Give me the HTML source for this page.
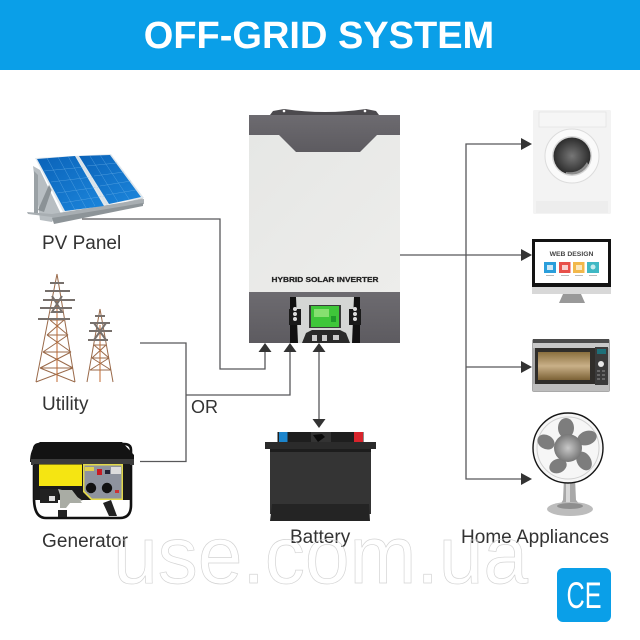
<!DOCTYPE html>
<html><head><meta charset="utf-8"><style>html,body{margin:0;padding:0;background:#fff}svg{display:block}text{font-family:"Liberation Sans",sans-serif}</style></head><body>
<svg width="640" height="640" viewBox="0 0 640 640" xmlns="http://www.w3.org/2000/svg">
<defs>
<linearGradient id="body" x1="0" x2="1" y1="0" y2="1"><stop offset="0" stop-color="#e6e7e5"/><stop offset="1" stop-color="#ededeb"/></linearGradient>
<linearGradient id="grey" x1="0" x2="0" y1="0" y2="1"><stop offset="0" stop-color="#6d6b70"/><stop offset="1" stop-color="#5d5b60"/></linearGradient>
<linearGradient id="pv" x1="0" x2="1" y1="0" y2="1"><stop offset="0" stop-color="#0a62b8"/><stop offset="1" stop-color="#1c86dc"/></linearGradient>
<radialGradient id="hub"><stop offset="0" stop-color="#c8c8c8"/><stop offset="1" stop-color="#777"/></radialGradient>
<radialGradient id="glass"><stop offset="0" stop-color="#777"/><stop offset="1" stop-color="#2c2c2c"/></radialGradient>
<linearGradient id="oven" x1="0" x2="0" y1="0" y2="1"><stop offset="0" stop-color="#8a6f3e"/><stop offset=".5" stop-color="#c9b088"/><stop offset="1" stop-color="#7c6236"/></linearGradient>
</defs>

<rect width="640" height="640" fill="#fff"/>
<rect width="640" height="70" fill="#0a9fe8"/>
<text x="319" y="48" font-size="38" font-weight="700" fill="#fff" text-anchor="middle">OFF-GRID SYSTEM</text>

<!-- inverter -->
<path d="M270 115 L273 111 L284 109 Q325 115 366 109 L376 111 L379 115Z" fill="#4c4a4e"/>
<circle cx="284" cy="111" r="1.3" fill="#fff"/><circle cx="365" cy="111" r="1.3" fill="#fff"/>
<rect x="249" y="135" width="151" height="157" fill="url(#body)"/>
<path d="M249 115H400V135H377L360 152H296L279 135H249Z" fill="url(#grey)"/>
<rect x="249" y="292" width="151" height="51" fill="url(#grey)"/>
<text x="325" y="282" font-size="7.4" font-weight="700" fill="#222" stroke="#222" stroke-width=".25" text-anchor="middle" textLength="107" lengthAdjust="spacingAndGlyphs">HYBRID SOLAR INVERTER</text>
<rect x="290" y="297" width="70" height="46" fill="#111"/>
<path d="M296 297H354L352 343H298Z" fill="#d4d6d4"/>
<rect x="289" y="309" width="12" height="16" fill="#1a1a1a"/><rect x="349" y="309" width="12" height="16" fill="#1a1a1a"/>
<circle cx="295" cy="309" r="2" fill="#ddd"/><circle cx="295" cy="314" r="2" fill="#ddd"/><circle cx="295" cy="319" r="2" fill="#ddd"/>
<circle cx="355" cy="309" r="2" fill="#ddd"/><circle cx="355" cy="314" r="2" fill="#ddd"/><circle cx="355" cy="319" r="2" fill="#ddd"/>
<rect x="309" y="305" width="32" height="23" fill="#3a3c3a"/>
<rect x="311" y="306" width="28" height="21" fill="#3fc63a"/>
<rect x="314" y="309" width="15" height="8" fill="#86e070"/><rect x="331" y="316" width="5" height="6" fill="#1f9b2a"/>
<path d="M306 333L312 330H340L346 333L350 343H302Z" fill="#2a2a2a"/>
<rect x="312" y="335" width="5" height="6" fill="#ccc"/><rect x="322" y="335" width="5" height="6" fill="#ccc"/><rect x="333" y="335" width="6" height="5" fill="#ccc"/>

<!-- connectors -->
<g fill="none" stroke="#58585a" stroke-width="1.3">
<path d="M82 219H220V369H265V350"/>
<path d="M140 343H186V461.5H140"/>
<path d="M186 395H290V350"/>
<path d="M319 350V422"/>
<path d="M400 255H524"/>
<path d="M524 144H466V479H524"/>
<path d="M466 367H524"/>
</g>
<g fill="#333">
<path d="M265 343L258.500 352H271.500Z"/>
<path d="M290 343L283.500 352H296.500Z"/>
<path d="M319 343L312.500 352H325.500Z"/>
<path d="M319 428L312.500 419H325.500Z"/>
<path d="M532 144L521 138V150Z"/>
<path d="M532 255L521 249V261Z"/>
<path d="M532 367L521 361V373Z"/>
<path d="M532 479L521 473V485Z"/>
</g>

<!-- PV panel -->
<g>
<path d="M33 166L40 220L52 222L56 216L140 205L143 198L130 201L62 216L40 170Z" fill="#b8bec2"/>
<path d="M27 212L52 214L144 199V204L54 221L52 217L28 214Z" fill="#a8aeb2"/>
<path d="M52 218L143 203V206L54 224Z" fill="#8d9498"/>
<path d="M34 171V213H38V175Z" fill="#9aa1a5"/>
<path d="M38 210L52 178L54 183L44 212Z" fill="#8b9296"/>
<path d="M35 158L111 154L144 198L63 212Z" fill="#dfe7ed"/>
<path d="M37 159L75 156L104 206L65 211Z" fill="url(#pv)"/>
<path d="M79 156L110 155L141 197L109 204Z" fill="url(#pv)"/>
<g stroke="#6fb4ea" stroke-width=".4" fill="none" opacity=".8">
<path d="M44 171L85 167M51 182L92 177M57 193L99 187M62 203L105 196M87 166L117 163M94 176L124 172M100 186L131 181M106 195L136 190"/>
<path d="M47 158L75 210M58 157L86 208M68 156L95 206M90 156L118 202M100 155L129 199"/>
</g>
<path d="M76 156L78 156L108 205L106 205Z" fill="#d9e2e8"/>
</g>
<text x="42" y="249" font-size="19" fill="#333">PV Panel</text>

<!-- towers -->
<g fill="none" stroke="#9a6a4a" stroke-width="1">
<path d="M57 274L36 382M57 274L75 382M50 320L64 320M47 335L68 335M43 352L71 352M40 368L73 368M50 320L68 335M64 320L47 335M47 335L71 352M68 335L43 352M43 352L73 368M71 352L40 368M40 368L75 382M73 368L36 382"/>
<path d="M57 300V382" stroke="#c06a30"/>
<path d="M100 309L87 382M100 309L113 382M94 345L106 345M92 358L109 358M90 370L111 370M94 345L109 358M106 345L92 358M92 358L111 370M109 358L90 370"/>
<path d="M100 325V382" stroke="#c06a30"/>
</g>
<g fill="none" stroke="#77706c" stroke-width="2">
<path d="M45 291H70M43 300H75M40 308H72M38 319H70M50 283H64M52 296L62 312L52 312L62 296"/>
<path d="M90 323H110M89 331H112M88 340H108M95 316H105M94 323L106 340M106 323L94 340"/>
</g>
<text x="42" y="410" font-size="19" fill="#333">Utility</text>

<!-- generator -->
<path d="M34 498V450Q34 444 40 444H124Q131 444 131 450V505Q131 518 120 518H46Q34 518 34 498Z" fill="none" stroke="#111" stroke-width="2.6"/>
<path d="M30 462Q30 449 37 444L40 442H122L134 455V463Z" fill="#131313"/>
<rect x="31" y="459" width="103" height="6" fill="#3c3c3c"/>
<rect x="34" y="464" width="96" height="36" fill="#1a1a1a"/>
<rect x="39" y="464.500" width="43" height="21.500" fill="#f5e512"/>
<path d="M83 464H123V500H91L83 492Z" fill="#e2d94a"/>
<path d="M84.500 465.500H121.500V498.500H92L84.500 491Z" fill="#8e939e"/>
<rect x="85" y="467" width="9" height="4" fill="#e0d050"/>
<rect x="97" y="469" width="5" height="6" fill="#c81a22"/>
<rect x="105" y="470" width="5" height="4" fill="#223"/>
<rect x="111" y="467" width="10" height="7" fill="#ddd"/>
<circle cx="91" cy="488" r="5.200" fill="#111"/><circle cx="107" cy="488" r="5.200" fill="#111"/>
<rect x="115" y="490" width="4" height="3" fill="#c33"/>
<path d="M58 489L70 492L83 501H62Z" fill="#b8bab4"/>
<rect x="40" y="489" width="18" height="14" fill="#222"/><rect x="49" y="496" width="6" height="5" fill="#ddd"/>
<path d="M60 490H72L82 503H70L66 508H60Z" fill="#a9aca4"/>
<path d="M58 510H67V517H58ZM103 503L111 500L117 516H109Z" fill="#222"/>
<text x="42" y="547" font-size="19" fill="#333" textLength="86">Generator</text>

<!-- battery -->
<rect x="277.500" y="432" width="86" height="11" fill="#1e1e1e"/>
<rect x="279" y="432" width="8.500" height="10" fill="#1c85cc"/>
<rect x="354" y="432" width="9" height="10" fill="#d8242c"/>
<rect x="311" y="432" width="20" height="10" fill="#333"/>
<path d="M313 435L322 434L325 437L318 442Z" fill="#0a0a0a"/>
<rect x="265" y="442" width="111" height="7" fill="#2b2b2b"/>
<rect x="270" y="449" width="101" height="65" fill="#343434"/>
<rect x="270" y="449" width="101" height="3" fill="#1d1d1d"/>
<path d="M272 504H369L370 521H270Z" fill="#242424"/>
<text x="290" y="543" font-size="19" fill="#333">Battery</text>

<text x="191" y="413" font-size="18" fill="#333">OR</text>

<!-- washer -->
<rect x="533" y="110" width="78" height="104" rx="1.500" fill="#f3f3f3"/>
<rect x="539" y="112" width="67" height="15" fill="#f6f6f6" stroke="#e0e0e0" stroke-width=".6"/>
<rect x="536" y="201" width="72" height="12" fill="#ededed"/>
<circle cx="572" cy="156" r="27" fill="#fafafa" stroke="#dcdcdc"/>
<circle cx="572" cy="156" r="20" fill="#d8d8d8"/>
<circle cx="572" cy="156" r="18.500" fill="url(#glass)"/>
<path d="M566 172Q580 174 587 162L589 166Q580 178 566 175Z" fill="#ccc" opacity=".6"/>

<!-- monitor -->
<rect x="532" y="239" width="79" height="48" fill="#131313"/>
<rect x="535" y="242" width="73" height="41" fill="#fff"/>
<rect x="532" y="287" width="79" height="7" fill="#d8d8d8"/>
<path d="M563 294H581L585 303H559Z" fill="#999"/>
<text x="571.500" y="256" font-size="6.800" font-weight="700" fill="#444" text-anchor="middle">WEB DESIGN</text>
<rect x="544" y="262" width="12" height="11" fill="#2a9edb"/>
<rect x="559" y="262" width="11.500" height="11" fill="#e8504a"/>
<rect x="573" y="262" width="11.500" height="11" fill="#f2b84a"/>
<rect x="587" y="262" width="12" height="11" fill="#3fb8c4"/>
<rect x="547" y="265" width="6" height="5" fill="#cfe9f6"/><rect x="562" y="265" width="6" height="5" fill="#f9d0ce"/>
<rect x="576" y="265" width="6" height="5" fill="#fbe7bd"/><circle cx="593" cy="267" r="2.500" fill="#c5ebee"/>
<rect x="546" y="275" width="8" height="1" fill="#bbb"/><rect x="561" y="275" width="8" height="1" fill="#bbb"/><rect x="575" y="275" width="8" height="1" fill="#bbb"/><rect x="589" y="275" width="8" height="1" fill="#bbb"/>

<!-- microwave -->
<rect x="532" y="339" width="78" height="53" rx="2" fill="#a9a9a9"/>
<rect x="533" y="339" width="76" height="4" fill="#4b4b4b"/>
<rect x="533" y="343" width="76" height="5" fill="#c8c8c8"/>
<rect x="533" y="384" width="76" height="7" fill="#bdbdbd"/>
<rect x="535" y="348" width="60" height="36" fill="#2f2d2a"/>
<rect x="538" y="352" width="52" height="28" fill="url(#oven)"/>
<rect x="595" y="347" width="13" height="38" fill="#3a3a3a"/>
<rect x="597" y="349" width="9" height="5" fill="#1e6f78"/>
<circle cx="601" cy="364" r="3" fill="#e8e8e8"/>
<g fill="#666"><rect x="597" y="370" width="3" height="2"/><rect x="602" y="370" width="3" height="2"/><rect x="597" y="374" width="3" height="2"/><rect x="602" y="374" width="3" height="2"/><rect x="597" y="378" width="3" height="2"/><rect x="602" y="378" width="3" height="2"/></g>

<!-- fan -->
<path d="M564 478H575L576 500L580 505H560L563 500Z" fill="#a8a8a8"/>
<rect x="566" y="478" width="4" height="26" fill="#d8d8d8"/>
<ellipse cx="570" cy="509" rx="23" ry="7" fill="#bcbcbc"/>
<ellipse cx="570" cy="506" rx="13" ry="3" fill="#8e8e8e"/>
<circle cx="568" cy="448" r="35" fill="#f6f6f6" stroke="#151515" stroke-width="1.400"/>
<circle cx="568" cy="448" r="31" fill="none" stroke="#d0d0d0" stroke-width="1"/>
<g fill="#7d7d7d">
<ellipse cx="566" cy="428" rx="8" ry="10"/>
<ellipse cx="587" cy="438" rx="10" ry="7" transform="rotate(-20 587 438)"/>
<ellipse cx="584" cy="461" rx="7" ry="10" transform="rotate(-30 584 461)"/>
<ellipse cx="558" cy="466" rx="9" ry="7" transform="rotate(-25 558 466)"/>
<ellipse cx="546" cy="442" rx="9" ry="7" transform="rotate(30 546 442)"/>
</g>
<circle cx="568" cy="448" r="14" fill="url(#hub)"/>

<text x="461" y="543" font-size="19" fill="#333" textLength="148">Home Appliances</text>

<!-- watermark -->
<text x="113" y="583" font-size="82" fill="none" stroke="#d4d4d4" stroke-width=".7" textLength="415" lengthAdjust="spacingAndGlyphs">use.com.ua</text>

<!-- CE -->
<rect x="557" y="568" width="54" height="54" rx="6" fill="#0a9fe8"/>
<text x="584" y="608" font-size="37" fill="#fff" text-anchor="middle" textLength="35" lengthAdjust="spacingAndGlyphs">CE</text>
</svg>
</body></html>
